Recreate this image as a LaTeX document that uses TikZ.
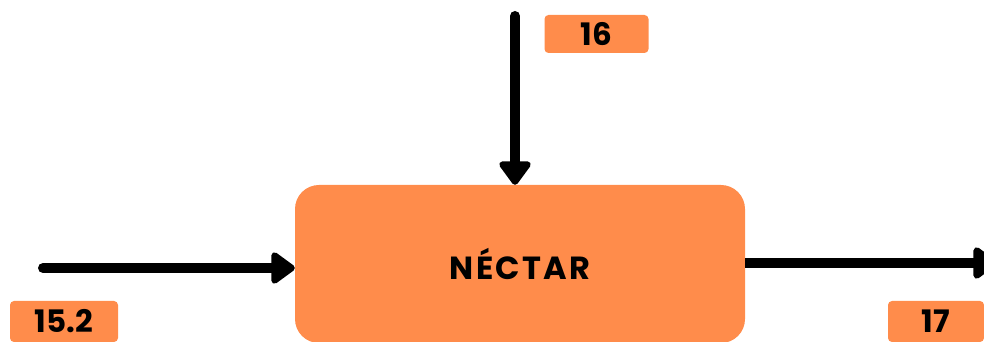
\documentclass[tikz,border=0pt]{standalone}
\usepackage{fontspec}
\setmainfont{Poppins}
\newfontfamily\boxfont{Poppins}[LetterSpace=7]
\usetikzlibrary{arrows.meta,calc}
\definecolor{naranja}{HTML}{FF8C4B}
\tikzset{
    flecha/.style={line width=10pt,line cap=round,-{Triangle[length=26pt,width=36pt,round]}},
    etiqueta/.style={fill=naranja,rounded corners=4pt,minimum width=104pt,minimum height=38pt,inner sep=0pt,
      font=\fontsize{31}{32}\selectfont\bfseries},
  }
\begin{document}
\begin{tikzpicture}[x=1pt,y=1pt]
			          %cadre 984x342
			          %boite centrale NECTAR
			          %fleches : entree gauche, entree haut, sortie droite
				  \useasboundingbox (0,0) rectangle (984,342);
				  \node[fill=naranja,rounded corners=24pt,minimum width=450pt,minimum height=158pt,inner sep=0pt,
				        font=\boxfont\fontsize{32}{34}\selectfont\bfseries](box) at (520,78) {NÉCTAR};
				  \coordinate (in) at (43,74);
				  \coordinate (top) at (515,326);
				  \coordinate (out) at (997,79);
				  \draw[flecha] (in) -- (in -| box.west);
				  \draw[flecha] (top) -- (top |- box.north);
				  \draw[flecha,line cap=butt] (out -| box.east) -- (out);
				  \node[etiqueta](e16) at (596.5,308) {16};
				  \node[etiqueta,minimum width=108pt,minimum height=41pt](e152) at (64,20.5) {15.2};
				  \node[etiqueta,minimum width=96pt,minimum height=41pt](e17) at (936,20.5) {17};
				  \end{tikzpicture}
\end{document}
